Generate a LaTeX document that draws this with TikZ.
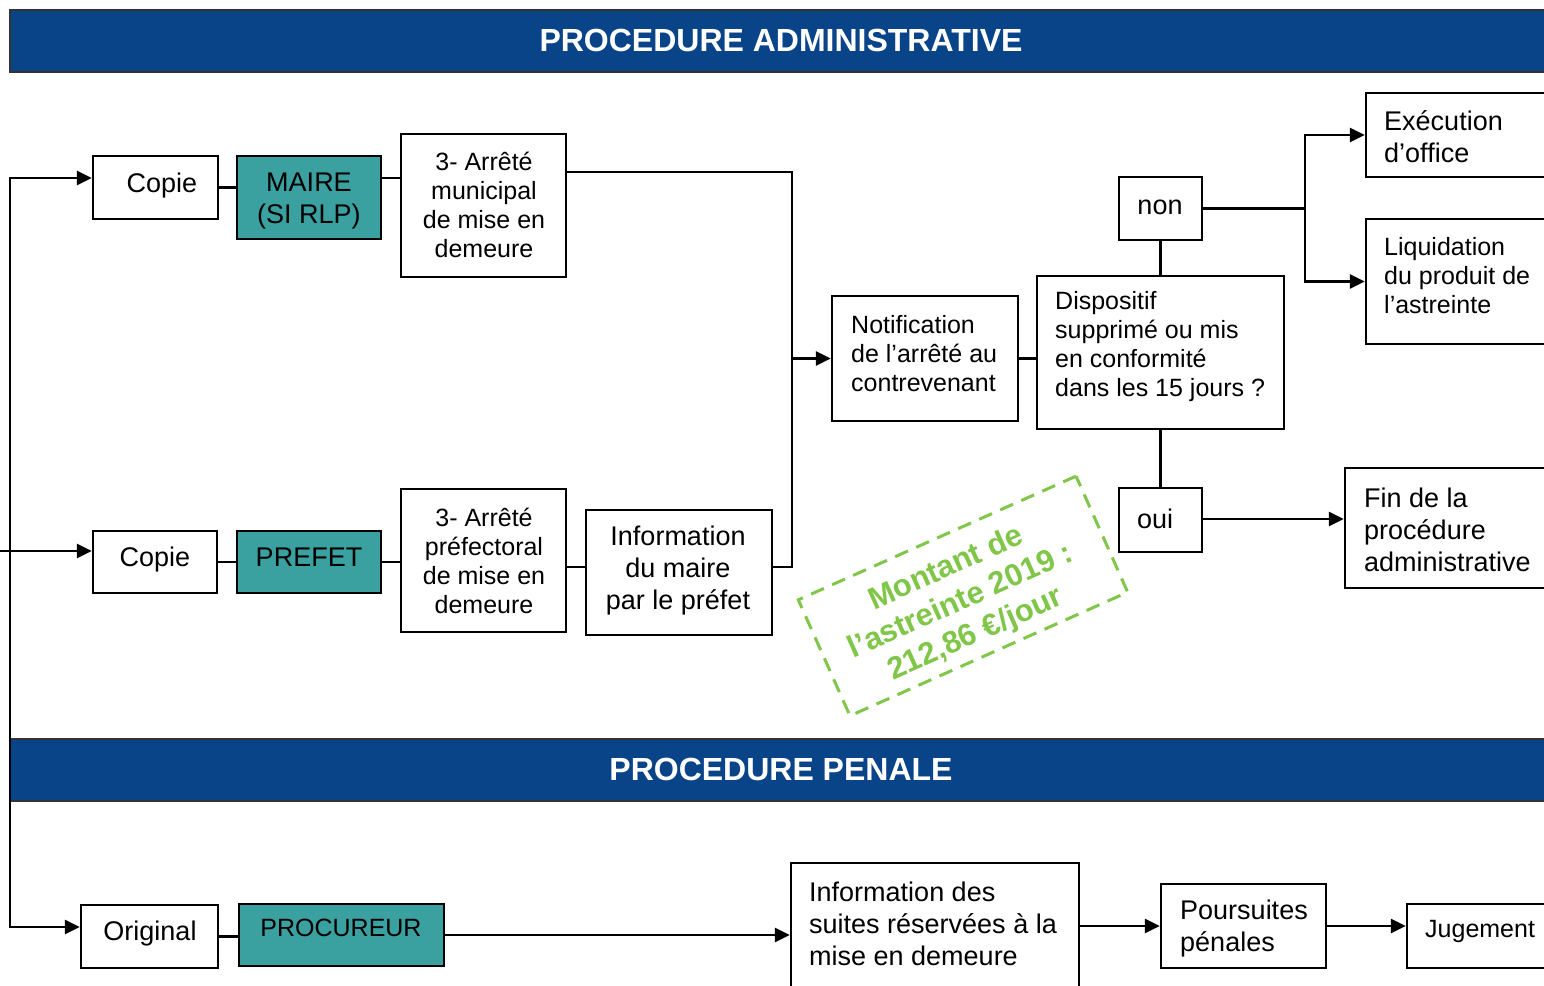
\documentclass[tikz,border=0pt]{standalone}
\usepackage{fontspec}
\setmainfont{Liberation Sans}
\usetikzlibrary{arrows.meta,fit,calc}
\definecolor{banblue}{RGB}{10,68,136}
\definecolor{tealbox}{RGB}{58,160,160}
\definecolor{grn}{RGB}{128,198,72}
\begin{document}
\begin{tikzpicture}[x=1pt,y=-1pt,
  box/.style={draw=black, line width=2.4pt, inner sep=0pt, fill=white},
  tbox/.style={box, fill=tealbox},
  banner/.style={draw=black!80, line width=1.5pt, inner sep=0pt, fill=banblue},
  ttl/.style={font=\fontsize{32}{36}\selectfont\bfseries, text=white, inner sep=0pt},
  sm/.style={font=\fontsize{25}{29}\selectfont, inner sep=0pt, align=center},
  lg/.style={font=\fontsize{27}{32}\selectfont, inner sep=0pt, align=center},
  lft/.style={anchor=west, align=left},
  line/.style={draw=black, line width=2.8pt},
  arr/.style={line, -{Triangle[length=15pt,width=14pt]}},
  arrboth/.style={line, {Triangle[length=15pt,width=14pt]}-{Triangle[length=15pt,width=14pt]}},
  gbox/.style={draw=grn, line width=3pt, dash pattern=on 14pt off 9pt, inner sep=0pt},
  gtxt/.style={font=\fontsize{31}{36}\selectfont\bfseries, text=grn, align=center, inner sep=0pt}]
\useasboundingbox (0,0) rectangle (1544,985);
\clip (0,0) rectangle (1544,985);
\fill[white] (0,0) rectangle (1544,985);

% banners
\node[banner, fit={(10,10)(1570,72)}] (ban1) {};
\node[ttl] (ban1t) at (781,40) {PROCEDURE ADMINISTRATIVE};
\node[banner, fit={(10,739)(1570,801)}] (ban2) {};
\node[ttl] (ban2t) at (781,769) {PROCEDURE PENALE};

% boxes
\node[box, fit={(93,156)(218,219)}] (copie1) {};
\node[tbox, fit={(237,156)(381,239)}] (maire) {};
\node[box, fit={(401,134)(566,277)}] (arr1) {};
\node[box, fit={(93,531)(217,593)}] (copie2) {};
\node[tbox, fit={(237,531)(381,593)}] (prefet) {};
\node[box, fit={(401,489)(566,632)}] (arr2) {};
\node[box, fit={(586,510)(772,635)}] (infom) {};
\node[box, fit={(832,296)(1018,421)}] (notif) {};
\node[box, fit={(1037,276)(1284,429)}] (disp) {};
\node[box, fit={(1119,177)(1202,240)}] (non) {};
\node[box, fit={(1119,488)(1202,552)}] (oui) {};
\node[box, fit={(1366,93)(1570,177)}] (exec) {};
\node[box, fit={(1366,219)(1570,344)}] (liq) {};
\node[box, fit={(1345,468)(1570,588)}] (fin) {};
\node[box, fit={(81,905)(218,968)}] (orig) {};
\node[tbox, fit={(239,904)(444,966)}] (proc) {};
\node[box, fit={(791,863)(1079,1010)}] (infos) {};
\node[box, fit={(1161,884)(1326,968)}] (pours) {};
\node[box, fit={(1407,904)(1570,968)}] (jug) {};

% texts
\node[lg] (copie1t) at (162,186) {Copie};
\node[lg] (mairet) at (309,201) {MAIRE\\(SI RLP)};
\node[sm] (arr1t) at (484,205) {3- Arrêté\\municipal\\de mise en\\demeure};
\node[sm, lft] (notift) at (851,354) {Notification\\de l’arrêté au\\contrevenant};
\node[sm, lft] (dispt) at (1055,347) {Dispositif\\supprimé ou mis\\en conformité\\dans les 15 jours ?};
\node[lg] (nont) at (1160,207) {non};
\node[lg, lft] (exect) at (1384,137) {Exécution\\d’office};
\node[sm, lft] (liqt) at (1384,276) {Liquidation\\du produit de\\l’astreinte};
\node[lg] (ouit) at (1155,519) {oui};
\node[lg, lft] (fint) at (1364,530) {Fin de la\\procédure\\administrative};
\node[lg] (copie2t) at (155,560) {Copie};
\node[lg] (prefett) at (309,557) {PREFET};
\node[sm] (arr2t) at (484,561) {3- Arrêté\\préfectoral\\de mise en\\demeure};
\node[lg] (infomt) at (678,571) {Information\\du maire\\par le préfet};
\node[lg] (origt) at (150,934) {Original};
\node[sm] (proct) at (341,928) {PROCUREUR};
\node[lg, lft] (infost) at (809,924) {Information des\\suites réservées à la\\mise en demeure};
\node[lg, lft] (pourst) at (1180,929) {Poursuites\\pénales};
\node[sm, lft] (jugt) at (1425,931) {Jugement};

% coordinates
\coordinate (tTop) at (10,178);
\coordinate (tBot) at (10,927);
\coordinate (tMid) at (0,551);
\coordinate (jB) at (792,567);
\coordinate (forkB) at (1305,281.5);
\coordinate (forkM) at (1305,208.5);

% connectors
\draw[arrboth] (tTop -| copie1.west) -- (tTop) -- (tBot) -- (tBot -| orig.west);
\draw[arr] (tMid) -- (tMid -| copie2.west);
\draw[line] (copie1.east) -- (copie1.east -| maire.west);
\draw[line] ([yshift=19.5pt]maire.east) -- ([yshift=27.5pt]arr1.west);
\draw[line] ([yshift=33.5pt]arr1.east) -| (jB) -- ([yshift=5.5pt]infom.east);
\draw[arr] (notif.west -| jB) -- (notif.west);
\draw[line] (copie2.east) -- (prefet.west);
\draw[line] (prefet.east) -- (prefet.east -| arr2.west);
\draw[line] ([yshift=-6.5pt]arr2.east) -- ([yshift=5.5pt]infom.west);
\draw[line] (notif.east) -- (notif.east -| disp.west);
\draw[line] (non.south) -- (non.south |- disp.north);
\draw[line] (oui.north |- disp.south) -- (oui.north);
\draw[line] (non.east) -- (forkM);
\draw[arrboth] (exec.west) -| (forkB) -- (liq.west);
\draw[arr] ([yshift=1pt]oui.east) -- ([yshift=1pt]oui.east -| fin.west);
\draw[line] (orig.east) -- (orig.east -| proc.west);
\draw[arr] (proc.east) -- (proc.east -| infos.west);
\draw[arr] (pours.west -| infos.east) -- (pours.west);
\draw[arr] (pours.east) -- (pours.east -| jug.west);

% green note
\node[gbox, rotate=24, minimum width=304pt, minimum height=127pt] (gb) at (963,596) {};
\node[gtxt, rotate=24] (gt) at (961,602) {Montant de\\l’astreinte 2019 :\\212,86 €/jour};
\end{tikzpicture}
\end{document}
